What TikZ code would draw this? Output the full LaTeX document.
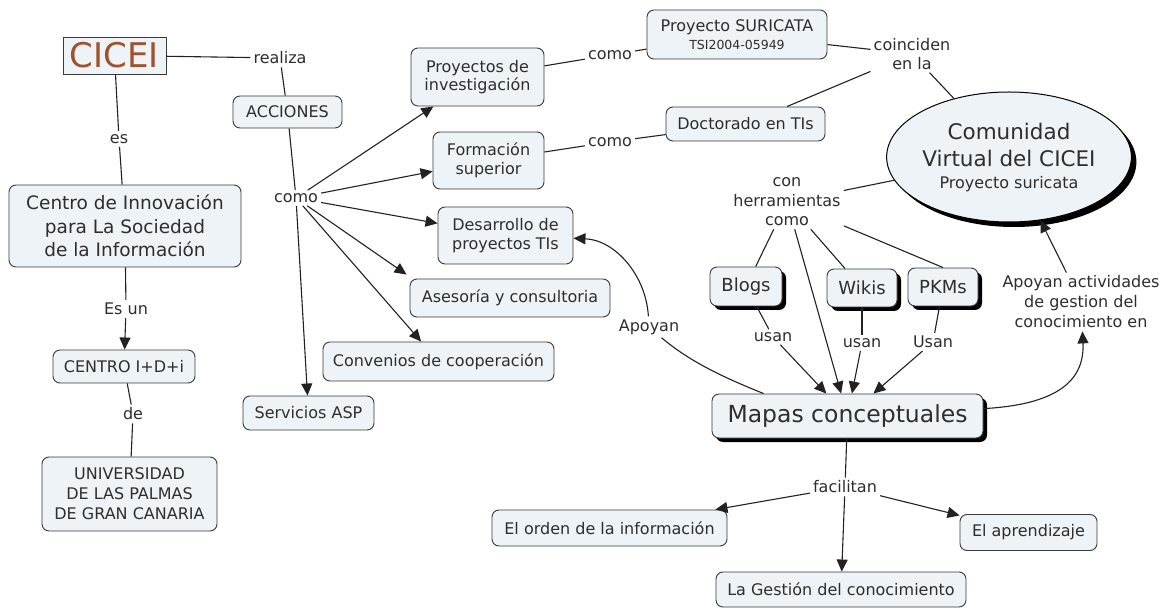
\documentclass[tikz,border=0pt]{standalone}
\usepackage{fontspec}
\setmainfont{DejaVu Sans}
\usetikzlibrary{arrows.meta,shadows,shapes.geometric}
\definecolor{boxfill}{HTML}{EDF3F7}
\definecolor{boxline}{HTML}{3A3A3A}
\definecolor{txt}{HTML}{2E2E2E}
\definecolor{ciceicol}{HTML}{A0522D}
\definecolor{linecol}{HTML}{222222}
\newcommand\cmapnormal{\fontsize{16}{18.5}\selectfont}
\begin{document}
\begin{tikzpicture}[x=1pt,y=-1pt,
  every node/.style={text=txt},
  concept/.style={draw=boxline, fill=boxfill, rounded corners=7pt, line width=0.9pt,
    align=center, inner sep=0pt, font=\cmapnormal},
  shconcept/.style={concept, font=\fontsize{18}{21}\selectfont,
    drop shadow={shadow xshift=4pt, shadow yshift=-4pt, fill=black, opacity=1}},
  lbl/.style={align=center, inner sep=3pt, font=\cmapnormal},
  conn/.style={draw=linecol, line width=1.1pt},
  arr/.style={conn, -{Triangle[length=12pt,width=11pt]}},
]
\useasboundingbox (0,0) rectangle (1162,609);
\fill[white] (0,0) rectangle (1162,609);

% left column
\node[concept, rounded corners=0pt, minimum width=103pt, minimum height=37pt,
  font=\fontsize{34}{36}\selectfont, text=ciceicol] (cicei) at (114.5,55.5) {CICEI};
\node[lbl] (realiza) at (280,58) {realiza};
\node[concept, minimum width=109pt, minimum height=32pt] (acc) at (287.5,112) {ACCIONES};
\node[lbl] (es) at (119,139) {es};
\node[concept, minimum width=232pt, minimum height=82pt, font=\fontsize{18.5}{23.3}\selectfont]
  (centro) at (125,226) {Centro de Innovación\\para La Sociedad\\de la Información};
\node[lbl] (esun) at (126,309) {Es un};
\node[concept, minimum width=142pt, minimum height=33pt] (cid) at (124,366.5) {CENTRO I+D+i};
\node[lbl] (de) at (133,414) {de};
\node[concept, minimum width=175pt, minimum height=74pt, font=\fontsize{16}{20}\selectfont]
  (ulpgc) at (129.5,494) {UNIVERSIDAD\\DE LAS PALMAS\\DE GRAN CANARIA};

% acciones
\node[lbl] (como) at (296,198) {como};
\node[concept, minimum width=133pt, minimum height=58pt] (proy) at (477.5,77) {Proyectos de\\investigación};
\node[concept, minimum width=111pt, minimum height=57pt] (form) at (488.5,160.5) {Formación\\superior};
\node[concept, minimum width=135pt, minimum height=57pt] (desa) at (505.5,235.5) {Desarrollo de\\proyectos TIs};
\node[concept, minimum width=200pt, minimum height=38pt] (ases) at (510,298) {Asesoría y consultoria};
\node[concept, minimum width=231pt, minimum height=39pt] (conv) at (438.5,361.5) {Convenios de cooperación};
\node[concept, minimum width=131pt, minimum height=34pt] (serv) at (308.5,413) {Servicios ASP};

% top
\node[lbl] (como2) at (610,55) {como};
\node[lbl] (como3) at (610,142) {como};
\node[concept, minimum width=180pt, minimum height=49pt] (sur) at (737,34.5)
  {Proyecto SURICATA\\[-1pt]{\fontsize{12.5}{14}\selectfont TSI2004-05949}};
\node[concept, minimum width=159pt, minimum height=34pt] (doc) at (745.5,124) {Doctorado en TIs};
\node[lbl] (coin) at (912,54) {coinciden\\en la};
\node[ellipse, draw=black, fill=boxfill, line width=1pt, minimum width=228pt, minimum height=130pt,
  inner sep=0pt, align=center, font=\fontsize{21.5}{27}\selectfont,
  drop shadow={shadow xshift=5pt, shadow yshift=-5pt, fill=black, opacity=1}] (cvc) at (1009,157)
  {Comunidad\\Virtual del CICEI\\[-5pt]{\fontsize{16}{19}\selectfont Proyecto suricata}};

% tools
\node[lbl, font=\fontsize{16}{19.5}\selectfont] (herr) at (787,202) {con\\herramientas\\como};
\node[shconcept, minimum width=72pt, minimum height=39pt] (blogs) at (746,286.5) {Blogs};
\node[shconcept, minimum width=70pt, minimum height=38pt] (wikis) at (862,288) {Wikis};
\node[shconcept, minimum width=70pt, minimum height=38pt] (pkms) at (943,287) {PKMs};
\node[lbl] (usan1) at (773,337) {usan};
\node[lbl] (usan2) at (862,343) {usan};
\node[lbl] (usan3) at (933,342) {Usan};
\node[shconcept, minimum width=271pt, minimum height=44pt, font=\fontsize{23.5}{26}\selectfont]
  (mapas) at (847.5,416) {Mapas conceptuales};
\node[lbl] (apoyan) at (649,327) {Apoyan};
\node[lbl, font=\fontsize{16}{20}\selectfont] (apoact) at (1081,302) {Apoyan actividades\\de gestion del\\conocimiento en};

% bottom
\node[lbl] (facil) at (845,487) {facilitan};
\node[concept, minimum width=235pt, minimum height=36pt] (orden) at (609.5,528) {El orden de la información};
\node[concept, minimum width=137pt, minimum height=36pt] (apren) at (1028.5,532.5) {El aprendizaje};
\node[concept, minimum width=250pt, minimum height=35pt] (gest) at (841,589.5) {La Gestión del conocimiento};

% connectors left
\draw[conn] (cicei) -- (realiza);
\draw[conn] (realiza) -- (acc);
\draw[conn] (cicei) -- (es);
\draw[conn] (es) -- (centro);
\draw[conn] (centro) -- (esun);
\draw[arr] (esun) -- (cid);
\draw[conn] (cid) -- (de);
\draw[conn] (de) -- (ulpgc);

\draw[conn] (acc) -- (como);
\draw[arr] (como) -- (proy);
\draw[arr] (como) -- (form);
\draw[arr] (como) -- (desa);
\draw[arr] (como) -- ([shift={(-3pt,4pt)}]ases.north west);
\draw[arr] (como) -- (conv);
\draw[arr] (como) -- (serv);

\draw[conn] (proy) -- (como2);
\draw[conn] (como2) -- (sur);
\draw[conn] (form) -- (como3);
\draw[conn] (como3) -- (doc);
\draw[conn] (sur) -- (coin);
\draw[conn] (doc) -- (coin);
\draw[conn] (coin) -- (cvc);

\draw[conn] (cvc) -- (herr);
\draw[conn] (herr) -- (blogs);
\draw[conn] (herr) -- (wikis);
\draw[conn] (herr) -- (pkms.north);
\draw[arr] (herr) -- (mapas);
\draw[conn] (blogs) -- (usan1);
\draw[arr] (usan1) -- (mapas);
\draw[conn] (wikis) -- (usan2);
\draw[arr] (usan2) -- (mapas);
\draw[conn] (pkms) -- (usan3);
\draw[arr] (usan3) -- (mapas);

\draw[conn] ([xshift=52pt]mapas.north west) .. controls (725,378) and (690,362) .. (apoyan);
\draw[arr] (apoyan) .. controls (646,275) and (615,240) .. (desa);
\draw[arr] (mapas) .. controls (1050,405) and (1085,385) .. (apoact);
\draw[arr] (apoact) -- (cvc);

\draw[conn] (mapas) -- (facil);
\draw[arr] (facil) -- (orden);
\draw[arr] (facil) -- (apren);
\draw[arr] (facil) -- (gest);
\end{tikzpicture}
\end{document}
